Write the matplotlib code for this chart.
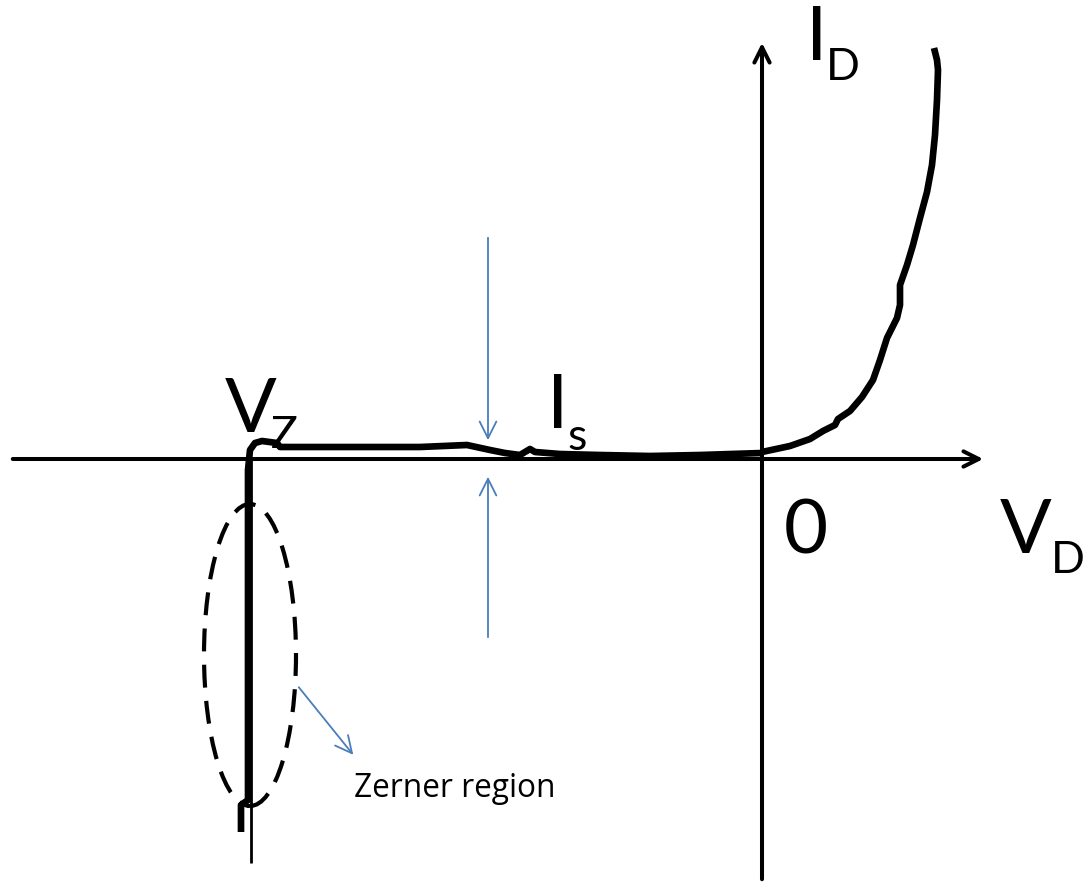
import matplotlib.pyplot as plt
from matplotlib.patches import Ellipse

# Hand-drawn diode I-V curve (units: 1 unit = 100 px of the original sketch)
# forward branch
v_fwd = [0.00, 0.28, 0.48, 0.61, 0.73, 0.76, 0.88, 1.00, 1.11, 1.18, 1.25, 1.35,
         1.38, 1.38, 1.45, 1.51, 1.58, 1.65, 1.70, 1.73, 1.75, 1.76, 1.75, 1.72]
i_fwd = [0.05, 0.11, 0.18, 0.26, 0.32, 0.38, 0.46, 0.60, 0.77, 0.97, 1.19, 1.39,
         1.52, 1.72, 1.92, 2.12, 2.39, 2.65, 2.92, 3.22, 3.57, 3.87, 3.97, 4.09]

# reverse branch (leakage + breakdown)
v_rev = [0.00, -0.62, -1.12, -1.62, -2.02, -2.27, -2.32, -2.42, -2.57, -2.72, -2.95, -3.42,
         -4.12, -4.62, -4.82, -4.85, -5.00, -5.07, -5.12, -5.14, -5.14, -5.14, -5.21, -5.21]
i_rev = [0.04, 0.02, 0.01, 0.02, 0.03, 0.05, 0.08, 0.02, 0.04, 0.07, 0.12, 0.10,
         0.10, 0.10, 0.10, 0.14, 0.16, 0.14, 0.07, -0.13, -1.43, -3.43, -3.48, -3.75]

# thin guide line under the breakdown
v_guide = [-5.115, -5.115]
i_guide = [-0.02, -4.06]

fig = plt.figure(figsize=(10.86, 8.82), dpi=100)
ax = fig.add_axes([0, 0, 1, 1])
ax.set_xlim(-7.62, 3.24)
ax.set_ylim(-4.25, 4.57)
ax.axis('off')

# axes with arrow heads
ax.annotate('', xy=(2.24, -0.02), xytext=(-7.52, -0.02),
            arrowprops=dict(arrowstyle='->,head_length=1.1,head_width=0.55', lw=2.9, color='black'))
ax.annotate('', xy=(0.0, 4.17), xytext=(0.0, -4.25),
            arrowprops=dict(arrowstyle='->,head_length=1.1,head_width=0.55', lw=2.9, color='black'))

ax.plot(v_guide, i_guide, color='black', lw=2.0, solid_capstyle='butt')
ax.plot(v_fwd, i_fwd, color='black', lw=4.8, solid_joinstyle='round', solid_capstyle='butt')
ax.plot(v_rev, i_rev, color='black', lw=4.8, solid_joinstyle='round', solid_capstyle='butt')

# zener region marker
ax.add_patch(Ellipse((-5.12, -1.98), 0.92, 3.02, fill=False, ec='black', lw=3.0,
                     linestyle=(0, (5.5, 3.2))))

blue = '#4a7ebb'
blue_arrow = dict(arrowstyle='->,head_length=1.2,head_width=0.6', lw=1.3, color=blue)
ax.annotate('', xy=(-2.74, 0.14), xytext=(-2.74, 2.22), arrowprops=blue_arrow)
ax.annotate('', xy=(-2.74, -0.17), xytext=(-2.74, -1.83), arrowprops=blue_arrow)
ax.annotate('', xy=(-4.07, -3.00), xytext=(-4.65, -2.28), arrowprops=blue_arrow)

font = 'Lato'
big, small = 55, 32
ax.text(-5.37, 0.25, 'V', fontsize=big, family=font, ha='left', va='baseline')
ax.text(-4.91, 0.09, 'Z', fontsize=small, family=font, ha='left', va='baseline')
ax.text(-2.15, 0.29, 'I', fontsize=big, family=font, ha='left', va='baseline')
ax.text(-1.95, 0.07, 's', fontsize=small, family=font, ha='left', va='baseline')
ax.text(0.44, 3.97, 'I', fontsize=big, family=font, ha='left', va='baseline')
ax.text(0.64, 3.77, 'D', fontsize=small, family=font, ha='left', va='baseline')
ax.text(0.22, -0.96, '0', fontsize=big, family=font, ha='left', va='baseline')
ax.text(2.38, -0.96, 'V', fontsize=big, family=font, ha='left', va='baseline')
ax.text(2.89, -1.16, 'D', fontsize=small, family=font, ha='left', va='baseline')
ax.text(-4.08, -3.40, 'Zerner region', fontsize=22.8, family='Open Sans', ha='left', va='baseline')

fig.savefig('out.png', dpi=100)
